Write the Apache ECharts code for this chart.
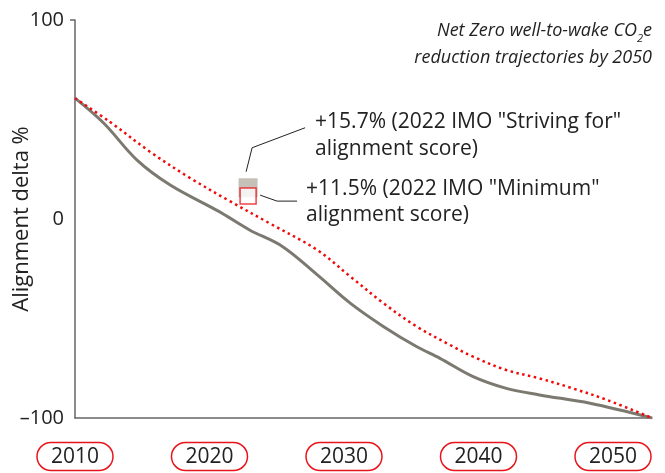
<!DOCTYPE html>
<html><head><meta charset="utf-8">
<script src="https://cdn.jsdelivr.net/npm/echarts@6/dist/echarts.min.js"></script>
<style>html,body{margin:0;padding:0;background:#fff}#c{width:665px;height:473px}</style>
</head><body><div id="c"></div>
<script>
// ---- data ----
const grayYears = [2010, 2012, 2014.3, 2016.6, 2020, 2022.1, 2024.4, 2026.8, 2029.1, 2031.4, 2033.7, 2035.3, 2037.6, 2039.9, 2042.2, 2045.7, 2050];
const grayValues = [60.7, 48.1, 29.6, 17.1, 3.7, -5.5, -13.9, -28.1, -42.4, -54.1, -64.2, -70, -79.2, -85.1, -88.4, -92.6, -100];
const redYears = [2010, 2012.4, 2015.2, 2018, 2020.8, 2023.5, 2026.8, 2029.1, 2031.4, 2033.7, 2036, 2037.6, 2039.9, 2042.2, 2044.5, 2046.9, 2050];
const redValues = [60.7, 48.9, 33.8, 20.5, 8.7, -2.2, -15.6, -29, -42.4, -54.1, -63.3, -69.2, -75.9, -80.1, -85.1, -91, -100];
const scoreYear = 2022;
const strivingScore = 15.7;
const minimumScore = 11.5;
const xTickLabels = [2010, 2020, 2030, 2040, 2050];
const yTickValues = [-100, 0, 100];
const yAxisName = 'Alignment delta %';
const titleLines = ['Net Zero well-to-wake CO{sub|2}e', 'reduction trajectories by 2050'];

const FONT = '"Open Sans", "Noto Sans", sans-serif';
const chart = echarts.init(document.getElementById('c'), null, {renderer: 'canvas'});

const option = {
  backgroundColor: '#fff',
  animation: false,
  grid: {left: 75, right: 13, top: 20, bottom: 55, containLabel: false, outerBoundsMode: 'none'},
  xAxis: [
    {
      type: 'value', min: xTickLabels[0], max: xTickLabels[xTickLabels.length - 1],
      axisLine: {show: true, onZero: false, lineStyle: {color: '#666', width: 1.5}},
      axisTick: {show: false}, axisLabel: {show: false}, splitLine: {show: false}
    },
    {
      type: 'value', position: 'bottom', min: 2010, max: 2052.9, interval: 10,
      axisLine: {show: false}, axisTick: {show: false}, splitLine: {show: false},
      axisLabel: {
        margin: 27,
        formatter: v => xTickLabels.indexOf(v) >= 0 ? '{b|' + v + '}' : '',
        rich: {b: {fontFamily: FONT, fontSize: 21, color: '#222', borderColor: '#e8141b', borderWidth: 1.5,
          borderRadius: 15, padding: [4, 14, 3, 14], lineHeight: 23}}
      }
    }
  ],
  yAxis: {
    type: 'value', min: yTickValues[0], max: yTickValues[yTickValues.length - 1], interval: 100,
    name: yAxisName, nameLocation: 'middle', nameGap: 42, nameRotate: 90, nameMoveOverlap: false,
    nameTextStyle: {fontFamily: FONT, fontSize: 22, color: '#222'},
    axisLine: {show: true, lineStyle: {color: '#666', width: 1.5}},
    axisTick: {show: true, length: 5, customValues: [100], lineStyle: {color: '#666', width: 1.5}},
    axisLabel: {fontFamily: FONT, fontSize: 20, color: '#222', margin: 11,
      formatter: v => String(v).replace('-', '\u2013')},
    splitLine: {show: false}
  },
  series: [
    {
      type: 'line', xAxisIndex: 0, smooth: 0.35, symbol: 'none',
      data: grayYears.map((y, i) => [y, grayValues[i]]),
      lineStyle: {color: '#7c7970', width: 3}, z: 2
    },
    {
      type: 'line', xAxisIndex: 0, smooth: 0.35, symbol: 'none',
      data: redYears.map((y, i) => [y, redValues[i]]),
      lineStyle: {color: '#f00a0a', width: 2.5, type: [2.5, 3.5]}, z: 3
    },
    {
      type: 'scatter', xAxisIndex: 0, symbol: 'rect', symbolSize: 19,
      data: [[scoreYear, strivingScore]],
      itemStyle: {color: '#b7b2a6'}, z: 4
    },
    {
      type: 'scatter', xAxisIndex: 0, symbol: 'rect', symbolSize: 16,
      data: [[scoreYear, minimumScore]],
      itemStyle: {color: '#fff', borderColor: '#e8141b', borderWidth: 1.5}, z: 5
    }
  ]
};
chart.setOption(option);

const g = chart.convertToPixel({xAxisIndex: 0, yAxisIndex: 0}, [scoreYear, strivingScore]);
const r = chart.convertToPixel({xAxisIndex: 0, yAxisIndex: 0}, [scoreYear, minimumScore]);
const plotRight = chart.convertToPixel({xAxisIndex: 0}, xTickLabels[xTickLabels.length - 1]);
const txt = {fontFamily: FONT, fontSize: 21, fill: '#222'};
chart.setOption({
  graphic: [
    {type: 'text', silent: true, x: plotRight, y: 17,
      style: {text: titleLines.join('\n'), align: 'right', verticalAlign: 'top',
        fontFamily: FONT, fontStyle: 'italic', fontSize: 18, fill: '#222', lineHeight: 27,
        rich: {sub: {fontFamily: FONT, fontStyle: 'italic', fontSize: 11, fill: '#222', verticalAlign: 'bottom', lineHeight: 21}}}},
    {type: 'polyline', silent: true, shape: {points: [[g[0] - 2, g[1] - 16], [g[0] + 4, g[1] - 40], [g[0] + 57, g[1] - 60]]},
      style: {stroke: '#222', lineWidth: 1, fill: null}},
    {type: 'text', silent: true, x: g[0] + 67, y: g[1] - 79,
      style: Object.assign({text: '+' + strivingScore.toFixed(1) + '% (2022 IMO "Striving for"\nalignment score)', lineHeight: 27, verticalAlign: 'top'}, txt)},
    {type: 'polyline', silent: true, shape: {points: [[r[0] + 12, r[1] - 1], [r[0] + 29, r[1] + 5], [r[0] + 49, r[1] + 5]]},
      style: {stroke: '#222', lineWidth: 1, fill: null}},
    {type: 'text', silent: true, x: r[0] + 58, y: r[1] - 20,
      style: Object.assign({text: '+' + minimumScore.toFixed(1) + '% (2022 IMO "Minimum"\nalignment score)', lineHeight: 26, verticalAlign: 'top'}, txt)}
  ]
});
</script></body></html>
